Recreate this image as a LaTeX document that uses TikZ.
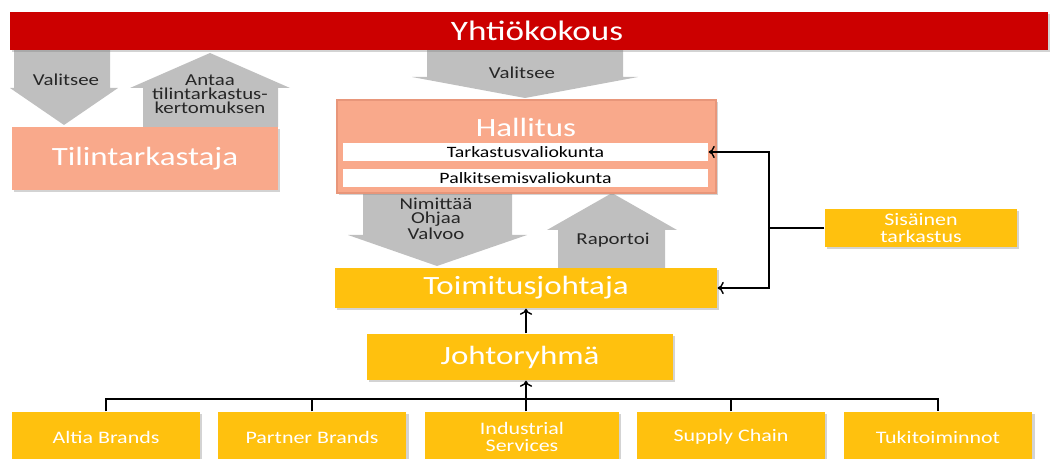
\documentclass[tikz,border=0pt]{standalone}
\usepackage{fontspec}
\setmainfont{Carlito}
\newfontfamily\widefont{Carlito}[FakeStretch=1.25]
\usetikzlibrary{shadows,arrows.meta}

\definecolor{meetingred}{HTML}{CC0000}
\definecolor{auditsalmon}{HTML}{F9A98B}
\definecolor{boardedge}{HTML}{E8967A}
\definecolor{unitamber}{HTML}{FFC10E}
\definecolor{flowgray}{HTML}{BFBFBF}

\begin{document}
\begin{tikzpicture}[x=0.02cm, y=-0.02cm, line width=0.8pt, >={To[length=3.5pt,width=7pt]},
    shade box/.style={drop shadow={opacity=0.35, shadow xshift=1.2pt, shadow yshift=-1.2pt}},
    unit/.style={shade box, fill=unitamber, text=white, inner sep=0pt, align=center},
    bigtext/.style={font=\widefont\fontsize{15}{17}\selectfont},
    smalltext/.style={font=\widefont\fontsize{10}{9.5}\selectfont},
    flowtext/.style={font=\widefont\fontsize{9.5}{8}\selectfont, align=center, text=black!85},
    flow/.style={fill=flowgray},
    committee/.style={fill=white, minimum width=7.3cm, minimum height=0.36cm, inner sep=0pt,
        font=\widefont\fontsize{9}{10}\selectfont}
]
    \useasboundingbox (0,0) rectangle (1052,459);
    \clip (0,0) rectangle (1052,459);

    % Block arrows between the levels.
    \fill [flow] (14,50) -- (110,50) -- (110,88) -- (118,88) -- (64,125) -- (10,88) -- (14,88) -- cycle;
    \fill [flow] (143,127) -- (143,88) -- (130,88) -- (210,53) -- (290,88) -- (278,88) -- (278,127) -- cycle;
    \fill [flow] (427,50) -- (623,50) -- (623,77) -- (638,77) -- (525,98) -- (412,77) -- (427,77) -- cycle;
    \fill [flow] (363,193) -- (512,193) -- (512,235) -- (527,235) -- (437,266) -- (348,235) -- (363,235) -- cycle;
    \fill [flow] (558,268) -- (558,230) -- (547,230) -- (612,193) -- (677,230) -- (665,230) -- (665,268) -- cycle;

    \node (meet) [shade box, fill=meetingred, minimum width=20.76cm, minimum height=0.76cm] at (529,31) {};
    \node (meettitle) [text=white, font=\widefont\fontsize{16}{18}\selectfont] at (537,31) {Yhtiökokous};

    \node (audit) [shade box, fill=auditsalmon, minimum width=5.32cm, minimum height=1.26cm,
        text=white, bigtext] at (145,158.5) {Tilintarkastaja};

    \node (board) [shade box, fill=auditsalmon, draw=boardedge, line width=1.5pt,
        minimum width=7.58cm, minimum height=1.86cm] at (526.5,146.5) {};
    \node (boardtitle) [text=white, bigtext] at (526,127) {Hallitus};
    \node (comm1) [committee] at (525.5,152) {Tarkastusvaliokunta};
    \node (comm2) [committee] at (525.5,178) {Palkitsemisvaliokunta};

    \node (ceo) [unit, bigtext, minimum width=7.64cm, minimum height=0.8cm] at (526,288) {Toimitusjohtaja};
    \node (intaudit) [unit, smalltext, minimum width=3.84cm, minimum height=0.76cm] at (921,228) {Sisäinen\\tarkastus};
    \node (mgmt) [unit, bigtext, minimum width=6.12cm, minimum height=0.92cm] at (520,357) {Johtoryhmä};

    % Business units.
    \node (altia) [unit, smalltext, minimum width=3.76cm, minimum height=1cm] at (106,437) {Altia Brands};
    \node (partner) [unit, smalltext, minimum width=3.78cm, minimum height=1cm] at (312,437) {Partner Brands};
    \node (industrial) [unit, smalltext, minimum width=3.88cm, minimum height=1cm] at (522,437) {Industrial\\Services};
    \node (supply) [unit, smalltext, minimum width=3.76cm, minimum height=1cm] at (731,437) {Supply Chain};
    \node (support) [unit, smalltext, minimum width=3.78cm, minimum height=1cm] at (938,437) {Tukitoiminnot};

    % Labels on the arrows.
    \node (elect1) [flowtext] at (66,80) {Valitsee};
    \node (report1) [flowtext] at (210,94) {Antaa\\tilintarkastus-\\kertomuksen};
    \node (elect2) [flowtext] at (522,73) {Valitsee};
    \node (steer) [flowtext] at (436,219) {Nimittää\\Ohjaa\\Valvoo};
    \node (report2) [flowtext] at (613,240) {Raportoi};

    % Connectors.
    \coordinate (split) at (769,228);
    \coordinate (rail) at (526,399);
    \draw (intaudit.west) -- (split);
    \draw [->] (split) |- (comm1.east);
    \draw [->] (split) |- (ceo.east);
    \draw (altia.north) |- (rail) -| (support.north);
    \draw (partner.north) -- (partner.north |- rail);
    \draw (supply.north) -- (supply.north |- rail);
    \draw [->] (industrial.north -| rail) -- (mgmt.south -| rail);
    \draw [->] (mgmt.north -| rail) -- (ceo.south -| rail);

\end{tikzpicture}
\end{document}
